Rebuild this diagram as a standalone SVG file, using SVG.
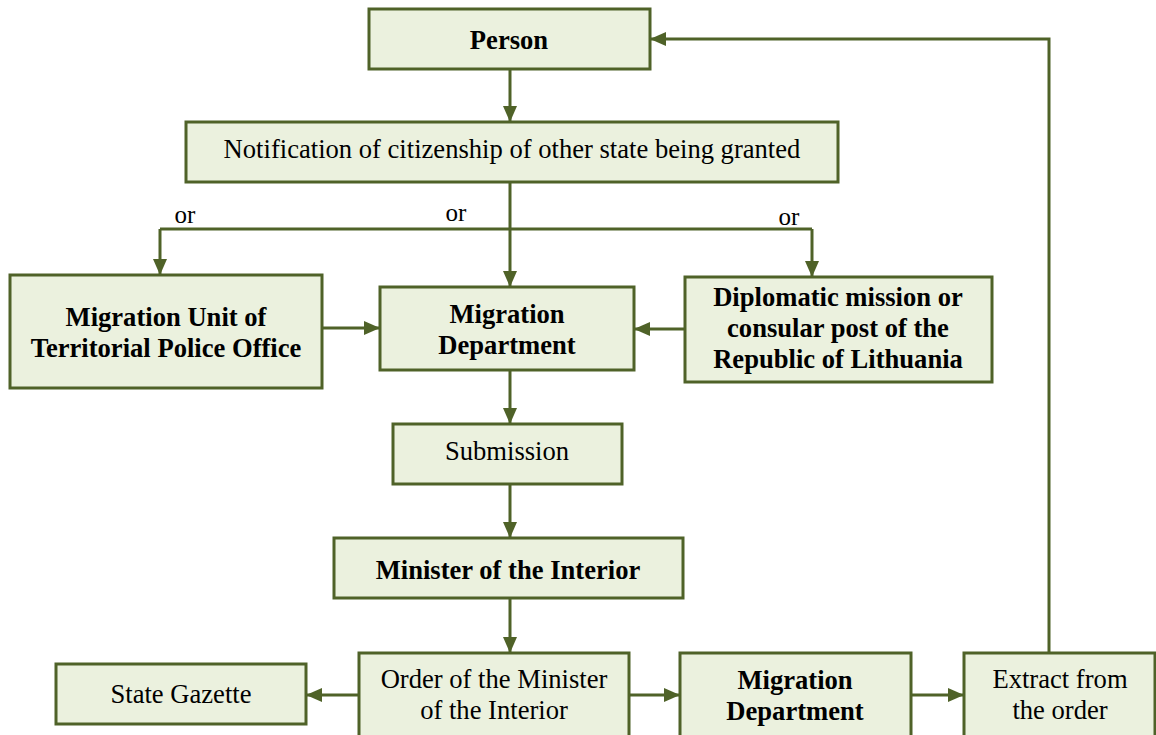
<svg xmlns="http://www.w3.org/2000/svg" width="1156" height="735" viewBox="0 0 1156 735">
<defs>
<style>
.box{fill:#EBF1DE;stroke:#4F6228;stroke-width:3}
.t{font-family:"Liberation Serif","Times New Roman",serif;font-size:26.6px;fill:#000;text-anchor:middle}
.o{font-size:25px}
.b{font-weight:bold}
.c{fill:none;stroke:#4F6228;stroke-width:3}
</style>
<marker id="ah" markerUnits="userSpaceOnUse" markerWidth="16" markerHeight="16" viewBox="0 0 16 16" refX="15" refY="8" orient="auto">
<path d="M0,1 L16,8 L0,15 Z" fill="#4F6228"/>
</marker>
</defs>
<rect width="1156" height="735" fill="#fff"/>
<g id="connectors">
<path class="c" d="M510,69 V121" marker-end="url(#ah)"/>
<path class="c" d="M510,182 V286" marker-end="url(#ah)"/>
<path class="c" d="M160,229 H812"/>
<path class="c" d="M160,229 V274" marker-end="url(#ah)"/>
<path class="c" d="M812,229 V276" marker-end="url(#ah)"/>
<path class="c" d="M322,328 H379" marker-end="url(#ah)"/>
<path class="c" d="M685,329 H635" marker-end="url(#ah)"/>
<path class="c" d="M510,370 V423" marker-end="url(#ah)"/>
<path class="c" d="M510,484 V537" marker-end="url(#ah)"/>
<path class="c" d="M510,598 V652" marker-end="url(#ah)"/>
<path class="c" d="M359,695 H307" marker-end="url(#ah)"/>
<path class="c" d="M629,695 H679" marker-end="url(#ah)"/>
<path class="c" d="M911,695 H963" marker-end="url(#ah)"/>
<path class="c" d="M1049,653 V39 H651" marker-end="url(#ah)"/>
<text class="t o" x="185" y="223">or</text>
<text class="t o" x="456" y="221">or</text>
<text class="t o" x="789" y="225">or</text>
</g>
<g id="person"><rect class="box" x="369" y="9" width="281" height="60"/><text class="t b" x="509" y="49">Person</text></g>
<g id="notification"><rect class="box" x="186" y="122" width="652" height="60"/><text class="t" x="512" y="158">Notification of citizenship of other state being granted</text></g>
<g id="migration-unit"><rect class="box" x="10" y="275" width="312" height="113"/><text class="t b" x="166" y="326">Migration Unit of</text><text class="t b" x="166" y="357">Territorial Police Office</text></g>
<g id="migration-dept"><rect class="box" x="380" y="287" width="254" height="83"/><text class="t b" x="507" y="323">Migration</text><text class="t b" x="507" y="354">Department</text></g>
<g id="diplomatic"><rect class="box" x="685" y="277" width="307" height="105"/><text class="t b" x="838" y="306">Diplomatic mission or</text><text class="t b" x="838" y="337">consular post of the</text><text class="t b" x="838" y="368">Republic of Lithuania</text></g>
<g id="submission"><rect class="box" x="393" y="424" width="229" height="60"/><text class="t" x="507" y="460">Submission</text></g>
<g id="minister"><rect class="box" x="334" y="538" width="349" height="60"/><text class="t b" x="508" y="579">Minister of the Interior</text></g>
<g id="order"><rect class="box" x="359" y="653" width="270" height="90"/><text class="t" x="494" y="688">Order of the Minister</text><text class="t" x="494" y="719">of the Interior</text></g>
<g id="gazette"><rect class="box" x="56" y="664" width="250" height="60"/><text class="t" x="181" y="703">State Gazette</text></g>
<g id="migration-dept-2"><rect class="box" x="680" y="653" width="231" height="90"/><text class="t b" x="795" y="689">Migration</text><text class="t b" x="795" y="720">Department</text></g>
<g id="extract"><rect class="box" x="964" y="653" width="191" height="90"/><text class="t" x="1060" y="688">Extract from</text><text class="t" x="1060" y="719">the order</text></g>
</svg>
